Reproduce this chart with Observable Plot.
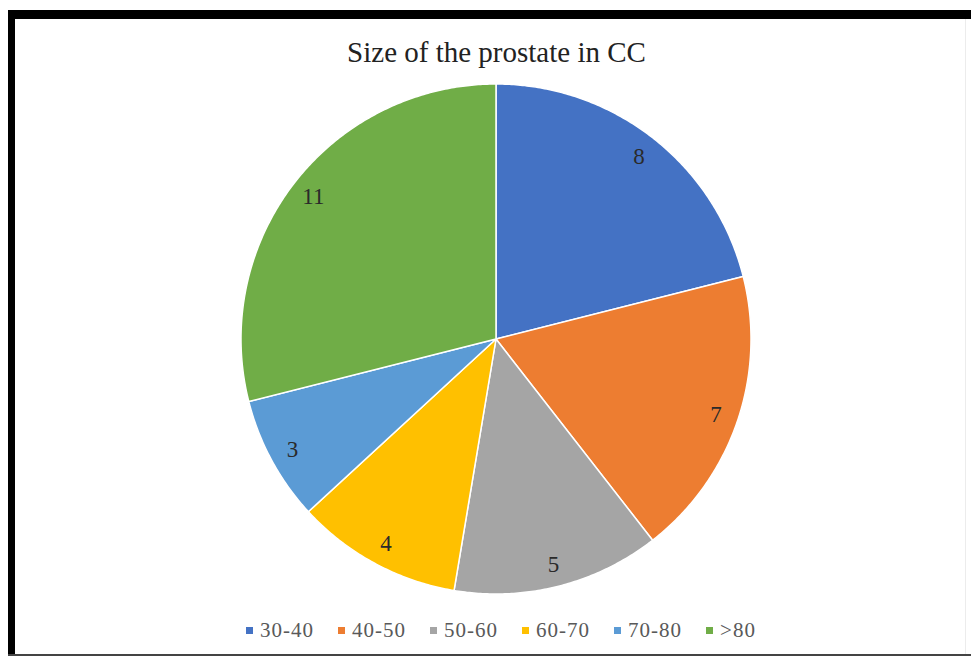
<!DOCTYPE html>
<html>
<head>
<meta charset="utf-8">
<script src="https://cdn.jsdelivr.net/npm/d3@7"></script>
<script src="https://cdn.jsdelivr.net/npm/@observablehq/plot@0.6"></script>
<style>
  html, body { margin: 0; padding: 0; background: #fff; }
  #frame { position: relative; width: 971px; height: 656px; overflow: hidden; background: #fff; }
  .bar { position: absolute; background: #000; }
  #title {
    position: absolute; left: 0; width: 993px; top: 35px; text-align: center;
    font-family: "Liberation Serif", "Times New Roman", serif; font-size: 29px; color: #222;
    line-height: 34px; white-space: nowrap;
  }
  #chart { position: absolute; left: 0; top: 70px; }
  #legend {
    position: absolute; left: 0; top: 618px; width: 1002px; display: flex; justify-content: center;
    font-family: "Liberation Serif", "Times New Roman", serif; font-size: 21px; color: #595959;
    letter-spacing: 1px; line-height: 24px;
  }
  .item { display: flex; align-items: center; margin: 0 12px; }
  .sw { width: 7px; height: 7px; margin-right: 7px; }
</style>
</head>
<body>
<div id="frame">
  <div class="bar" style="left:8px;top:10px;width:963px;height:9px"></div>
  <div class="bar" style="left:8px;top:10px;width:7px;height:646px"></div>
  <div class="bar" style="left:8px;top:654px;width:963px;height:2px;background:#444"></div>
  <div class="bar" style="left:965px;top:19px;width:1px;height:635px;background:#ececec"></div>
  <div id="title">Size of the prostate in CC</div>
  <div id="chart"></div>
  <div id="legend"></div>
</div>
<script>
// Prostate size groups (cc) and number of patients in each
const categories = ["30-40", "40-50", "50-60", "60-70", "70-80", ">80"];
const counts = [8, 7, 5, 4, 3, 11];
const colors = ["#4472C4", "#ED7D31", "#A5A5A5", "#FFC000", "#5B9BD5", "#70AD47"];

// Slice angles, clockwise from 12 o'clock, in the given order
const arcs = d3.pie().sort(null).value(d => d.count)(
  categories.map((category, i) => ({category, count: counts[i]}))
);

// Outline of each wedge as a sequence of points on the unit circle
const outline = arcs.flatMap(a => {
  const n = Math.max(2, Math.ceil((a.endAngle - a.startAngle) / (Math.PI / 360)));
  return d3.range(n + 1).map(i => {
    const t = a.startAngle + (a.endAngle - a.startAngle) * i / n;
    return {category: a.data.category, x: Math.sin(t), y: Math.cos(t)};
  });
});

const labels = arcs.map(a => {
  const mid = (a.startAngle + a.endAngle) / 2;
  return {category: a.data.category, count: a.data.count, x: 0.91 * Math.sin(mid), y: 0.91 * Math.cos(mid)};
});

const chart = Plot.plot({
  width: 971,
  height: 540,
  marginLeft: 241,
  marginRight: 220,
  marginTop: 14,
  marginBottom: 16,
  x: {domain: [-1, 1], axis: null},
  y: {domain: [-1, 1], axis: null},
  color: {domain: categories, range: colors},
  marks: [
    Plot.area(outline, {
      x1: "x", y1: "y", x2: () => 0, y2: () => 0,
      z: "category", fill: "category",
      stroke: "white", strokeWidth: 1.5, strokeLinejoin: "round", curve: "linear"
    }),
    Plot.text(labels, {
      x: "x", y: "y", text: d => String(d.count),
      fill: "#2a2a2a", fontSize: 23, fontFamily: "Liberation Serif, Times New Roman, serif"
    })
  ]
});
document.getElementById("chart").appendChild(chart);

// Legend row under the pie
const legend = document.getElementById("legend");
categories.forEach((c, i) => {
  const item = document.createElement("div");
  item.className = "item";
  const sw = document.createElement("span");
  sw.className = "sw";
  sw.style.background = colors[i];
  const label = document.createElement("span");
  label.textContent = c;
  item.appendChild(sw);
  item.appendChild(label);
  legend.appendChild(item);
});
</script>
</body>
</html>
